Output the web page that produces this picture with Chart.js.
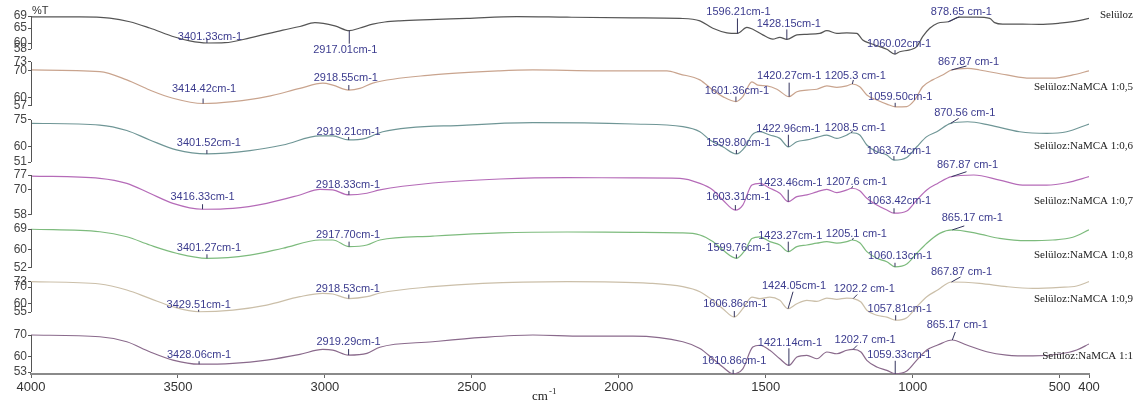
<!DOCTYPE html>
<html>
<head>
<meta charset="utf-8">
<script src="https://cdn.jsdelivr.net/npm/chart.js@4.4.1/dist/chart.umd.min.js"></script>
<style>
  html, body { margin: 0; padding: 0; background: #fff; }
  #wrap { width: 1141px; height: 408px; }
</style>
</head>
<body>
<div id="wrap"><canvas id="c"></canvas></div>
<script>
// FTIR spectra, transmittance (%T) against wavenumber (cm-1), one panel per sample.
const sampleNames = [
  'Selüloz',
  'Selüloz:NaMCA 1:0,5',
  'Selüloz:NaMCA 1:0,6',
  'Selüloz:NaMCA 1:0,7',
  'Selüloz:NaMCA 1:0,8',
  'Selüloz:NaMCA 1:0,9',
  'Selüloz:NaMCA 1:1'
];

// [wavenumber, %T]
const seluloz = [[4000,68.7],[3834,68.7],[3732,68.3],[3664,67.1],[3596,65.0],[3511,62.0],[3460,60.7],[3401.33,60.0],[3340,60.1],[3255,61.7],[3143,64.3],[3085,65.5],[3034,66.8],[2966,65.7],[2917.01,64.1],[2881,65.0],[2837,66.3],[2796,67.0],[2745,67.4],[2643,67.8],[2517,68.2],[2347,68.8],[2176,68.6],[1952,68.4],[1792,68.2],[1724,67.4],[1680,64.9],[1632,63.4],[1596.21,63.2],[1564,65.2],[1544,64.6],[1510,62.7],[1476,61.3],[1452,61.9],[1428.15,61.2],[1394,62.7],[1360,62.9],[1316,63.2],[1292,64.1],[1258,63.2],[1224,63.4],[1190,63.2],[1170,61.0],[1146,59.9],[1112,58.8],[1088,57.9],[1060.02,56.3],[1044,57.1],[1010,57.7],[986,58.8],[966,62.1],[942,64.9],[915,66.6],[878.65,67.1],[840,68.6],[782,68.6],[738,68.2],[721,66.8],[694,66.3],[626,66.3],[568,66.2],[500,66.6],[455,67.1],[400,68.2]];
const ratio05 = [[4000,70.1],[3766,69.5],[3674,66.5],[3596,62.8],[3517,59.8],[3414.42,57.9],[3313,58.6],[3198,60.4],[3085,63.4],[3007,65.3],[2973,64.6],[2918.55,62.8],[2881,63.4],[2837,65.3],[2633,68.3],[2405,69.8],[2292,70.1],[2064,69.8],[1836,69.8],[1792,68.6],[1724,66.5],[1680,62.8],[1646,60.4],[1601.36,58.6],[1578,60.4],[1547,65.8],[1527,64.6],[1496,64.3],[1462,63.1],[1420.27,60.4],[1394,62.2],[1360,62.8],[1326,63.1],[1292,64.3],[1258,63.8],[1224,64.3],[1205.3,65.0],[1180,64.0],[1156,61.0],[1122,59.2],[1088,57.7],[1059.50,56.7],[1020,56.8],[993,59.2],[966,64.0],[932,66.5],[898,68.3],[867.87,70.1],[813,70.7],[772,70.1],[680,68.3],[601,67.1],[523,67.1],[455,68.3],[400,69.8]];
const ratio06 = [[4000,73.1],[3766,72.1],[3674,69.0],[3596,63.6],[3505,57.9],[3401.52,55.6],[3255,57.5],[3143,60.7],[3017,65.9],[2973,65.9],[2919.21,63.6],[2862,64.5],[2803,68.3],[2517,72.1],[2292,73.5],[1952,72.7],[1782,71.2],[1724,68.3],[1690,63.6],[1646,59.7],[1599.80,55.6],[1570,59.7],[1547,66.4],[1520,68.3],[1486,66.4],[1452,64.5],[1422.96,59.7],[1394,62.6],[1360,63.6],[1326,65.1],[1292,66.4],[1258,64.5],[1224,66.4],[1208.5,67.7],[1180,66.4],[1156,60.7],[1122,56.9],[1088,55.0],[1063.74,52.1],[1020,53.6],[986,59.7],[952,65.5],[918,68.3],[870.56,73.1],[813,74.0],[738,72.1],[636,68.3],[544,67.4],[476,68.3],[400,72.7]];
const ratio07 = [[4000,76.5],[3766,75.4],[3674,73.0],[3596,68.3],[3517,63.5],[3416.33,60.7],[3313,61.1],[3198,63.5],[3085,67.5],[3017,70.2],[2973,69.9],[2918.33,67.5],[2857,68.3],[2813,69.9],[2633,73.2],[2405,75.1],[2176,75.8],[1952,75.6],[1792,75.4],[1724,73.0],[1680,69.9],[1646,65.1],[1603.31,60.3],[1578,62.7],[1547,72.2],[1520,73.0],[1486,70.7],[1452,68.3],[1423.46,64.3],[1394,66.7],[1360,67.5],[1326,69.0],[1292,70.2],[1258,68.6],[1224,69.9],[1207.6,70.7],[1180,69.5],[1156,65.9],[1122,62.7],[1088,60.3],[1063.42,58.8],[1020,59.9],[986,65.1],[952,69.9],[915,73.0],[867.87,76.2],[792,77.0],[704,74.6],[626,72.2],[544,72.2],[476,73.3],[400,76.2]];
const ratio08 = [[4000,68.9],[3766,67.8],[3674,65.6],[3596,62.0],[3505,58.4],[3401.27,56.2],[3255,57.6],[3143,60.6],[3017,64.2],[2973,64.2],[2917.70,61.3],[2857,62.0],[2813,64.2],[2633,65.9],[2405,67.3],[2176,67.7],[1952,67.5],[1792,67.3],[1724,66.4],[1680,63.5],[1646,59.8],[1599.76,56.2],[1570,59.8],[1547,64.9],[1520,65.6],[1486,63.5],[1452,62.0],[1423.27,59.1],[1394,61.3],[1360,62.0],[1326,62.8],[1292,63.5],[1258,62.8],[1224,63.5],[1205.1,64.2],[1180,63.0],[1156,59.1],[1122,56.2],[1088,54.7],[1060.13,52.5],[1020,53.7],[986,58.4],[952,62.8],[908,67.1],[865.17,68.6],[782,67.1],[704,64.9],[612,63.9],[523,64.2],[455,65.4],[400,68.6]];
const ratio09 = [[4000,73.2],[3766,71.8],[3674,68.2],[3596,63.2],[3517,58.2],[3429.51,55.2],[3313,56.2],[3198,59.2],[3085,64.2],[3007,66.2],[2973,65.8],[2918.53,63.1],[2857,64.2],[2813,66.4],[2633,70.2],[2463,72.2],[2176,73.2],[1893,72.2],[1782,70.2],[1724,67.2],[1680,62.0],[1646,57.0],[1606.86,52.0],[1578,57.0],[1547,64.0],[1520,63.0],[1486,64.0],[1452,62.0],[1424.05,57.0],[1394,60.0],[1360,62.0],[1326,61.4],[1292,63.4],[1258,62.6],[1224,63.4],[1202.2,63.1],[1176,61.0],[1156,56.1],[1122,53.1],[1088,52.0],[1057.81,50.1],[1020,51.6],[986,58.2],[952,64.2],[915,68.2],[867.87,73.0],[772,72.2],[680,70.2],[591,69.2],[499,69.8],[442,70.6],[400,73.2]];
const ratio10 = [[4000,70.0],[3766,69.2],[3674,66.9],[3596,62.3],[3517,58.5],[3428.06,56.6],[3313,57.0],[3198,58.5],[3085,61.1],[3007,63.4],[2973,63.1],[2919.29,60.8],[2857,61.6],[2813,64.4],[2633,66.9],[2463,68.9],[2292,70.0],[2122,69.5],[1952,69.5],[1782,66.9],[1724,63.8],[1680,59.1],[1646,55.3],[1610.86,52.2],[1578,54.5],[1544,64.5],[1520,65.3],[1486,63.0],[1452,59.1],[1421.14,56.1],[1394,59.9],[1360,60.7],[1326,59.1],[1292,62.2],[1258,61.4],[1224,63.0],[1202.7,63.4],[1176,62.2],[1156,58.4],[1122,55.3],[1088,53.8],[1059.33,52.2],[1020,53.5],[986,58.5],[952,63.1],[915,65.4],[865.17,67.7],[816,65.4],[748,62.3],[680,60.8],[591,60.4],[499,61.3],[442,63.1],[400,65.9]];

const spectra = [seluloz, ratio05, ratio06, ratio07, ratio08, ratio09, ratio10];

// Band labels; the number in each label is also where its marker sits.
const peakLabels = [
  ['3401.33cm-1', '2917.01cm-1', '1596.21cm-1', '1428.15cm-1', '1060.02cm-1', '878.65 cm-1'],
  ['3414.42cm-1', '2918.55cm-1', '1601.36cm-1', '1420.27cm-1', '1205.3 cm-1', '1059.50cm-1', '867.87 cm-1'],
  ['3401.52cm-1', '2919.21cm-1', '1599.80cm-1', '1422.96cm-1', '1208.5 cm-1', '1063.74cm-1', '870.56 cm-1'],
  ['3416.33cm-1', '2918.33cm-1', '1603.31cm-1', '1423.46cm-1', '1207.6 cm-1', '1063.42cm-1', '867.87 cm-1'],
  ['3401.27cm-1', '2917.70cm-1', '1599.76cm-1', '1423.27cm-1', '1205.1 cm-1', '1060.13cm-1', '865.17 cm-1'],
  ['3429.51cm-1', '2918.53cm-1', '1606.86cm-1', '1424.05cm-1', '1202.2 cm-1', '1057.81cm-1', '867.87 cm-1'],
  ['3428.06cm-1', '2919.29cm-1', '1610.86cm-1', '1421.14cm-1', '1202.7 cm-1', '1059.33cm-1', '865.17 cm-1']
];

// Tick labels of each panel's %T axis and of the wavenumber axis.
const yTickValues = [[69,65,60,58],[73,70,60,57],[75,60,51],[77,70,58],[69,60,52],[73,70,60,55],[70,60,53]];
const xTickValues = [4000,3500,3000,2500,2000,1500,1000,500,400];

// ---- presentation ----
const lineColors = ['#555555', '#c9a48e', '#6f9696', '#b56bb8', '#7dbb7d', '#cbbfa9', '#8a6a8c'];
const axisRanges = [[55.67,69.67],[54.27,75.18],[47.29,78.71],[54.62,80.10],[48.91,72.06],[48.15,77.19],[52.11,75.28]];
const panelWeights = [42, 57.5, 55, 53.5, 53, 48.5, 50.5];
const nameOffsets = [1, 31, 32.5, 32.5, 33, 24, 32.5];
// [label dx, label dy, marker dx, marker dy] in px from the band point
const peakOffsets = [
  [[3,-6,0,-4],[-4,19,0,13],[1,-21,0,-15],[2,-15,0,-10],[4,-10,0,-4],[13,-10,11,-5]],
  [[1,-15,0,-5],[-3,-12,0,-5],[1,-11,0,-5],[0,-20.7,0,-14],[3,-8,1,-4],[5,-10,0,-4],[17,-8,15,-4]],
  [[2,-11,0,-4],[0,-8,0,-3],[2,-11,0,-4],[0,-18,0,-12],[4,-5,1,-2],[5,-9,0,-4],[14,-10,8,-5]],
  [[0,-12.6,0,-5],[-1,-10,0,-4],[3,-13,0,-5],[2,-19,0,-12],[5,-6,1,-2],[5,-12,0,-5],[16,-12,15,-5]],
  [[2,-10,0,-4],[-1,-11.7,0,-5],[3,-10,0,-4],[2,-15.7,0,-10],[4,-6,1,-2],[5,-11,0,-4],[20,-12,12,-4]],
  [[0,-7,0,-2],[-1,-10,0,-4],[1,-13,0,-6],[6,-23,5,-17],[11,-10,4,-4],[4,-11.6,0,-5],[10,-10,9,-5]],
  [[0,-9,0,-3],[0,-13,0,-6],[1,-12.4,0,-4],[1,-22.6,0,-17],[12,-9,4,-4],[4,-18.4,0,-13],[5,-15,3,-8]]
];

function valueAt(data, w) {
  for (let j = 0; j < data.length - 1; j++) {
    const [w0, v0] = data[j], [w1, v1] = data[j + 1];
    if (w <= w0 && w >= w1) return w0 === w1 ? v0 : v0 + (v1 - v0) * (w - w0) / (w1 - w0);
  }
  return data[data.length - 1][1];
}

const datasets = spectra.map((pts, i) => ({
  label: sampleNames[i],
  data: pts.map(([x, y]) => ({ x, y })),
  yAxisID: 'y' + i,
  borderColor: lineColors[i],
  borderWidth: 1.2,
  pointRadius: 0,
  cubicInterpolationMode: 'monotone',
  fill: false
}));

const scales = {
  x: {
    type: 'linear',
    reverse: true,
    min: 400,
    max: 4000,
    afterBuildTicks: s => { s.ticks = xTickValues.map(v => ({ value: v })); },
    afterFit: s => { s.height = 34; },
    ticks: { autoSkip: false, maxRotation: 0, color: '#333', padding: 2,
             callback: v => String(v),
             font: { family: '"Liberation Sans", Arial, sans-serif', size: 13 } },
    grid: { drawOnChartArea: false, drawTicks: true, tickLength: 4, color: '#666' },
    border: { display: true, color: '#8a8a8a', width: 2 }
  }
};
// Stacked left axes are laid out with the last-defined one on top, so the
// panels are registered bottom-up.
for (let i = spectra.length - 1; i >= 0; i--) {
  scales['y' + i] = {
    type: 'linear',
    position: 'left',
    stack: 'panels',
    stackWeight: panelWeights[i],
    offset: false,
    min: axisRanges[i][0],
    max: axisRanges[i][1],
    afterBuildTicks: s => { s.ticks = yTickValues[i].map(v => ({ value: v })); },
    afterFit: s => { s.width = 31; },
    ticks: { autoSkip: false, color: '#444', padding: 1,
             callback: v => String(v),
             font: { family: '"Liberation Sans", Arial, sans-serif', size: 12 } },
    grid: { drawOnChartArea: false, drawTicks: true, tickLength: 3, color: '#555' },
    border: { display: false }
  };
}

const spectraDecor = {
  id: 'spectraDecor',
  afterDraw(chart) {
    const { ctx, chartArea: area } = chart;
    const xs = chart.scales.x;
    ctx.save();
    spectra.forEach((data, i) => {
      const ys = chart.scales['y' + i];
      const t = yTickValues[i];
      // axis bracket spanning the labelled range
      const bx = Math.round(area.left) + 0.5;
      ctx.strokeStyle = '#555';
      ctx.lineWidth = 1;
      ctx.beginPath();
      ctx.moveTo(bx, ys.getPixelForValue(Math.max(...t)));
      ctx.lineTo(bx, ys.getPixelForValue(Math.min(...t)));
      ctx.stroke();

      // band markers and labels
      peakLabels[i].forEach((lab, k) => {
        const w = parseFloat(lab);
        const px = xs.getPixelForValue(w);
        const py = ys.getPixelForValue(valueAt(data, w));
        const [ldx, ldy, mdx, mdy] = peakOffsets[i][k];
        ctx.strokeStyle = '#34345e';
        ctx.lineWidth = 1;
        ctx.beginPath();
        ctx.moveTo(px, py);
        ctx.lineTo(px + mdx, py + mdy);
        ctx.stroke();
        ctx.fillStyle = '#3b3b8e';
        ctx.font = '11px "Liberation Sans", Arial, sans-serif';
        ctx.textAlign = 'center';
        ctx.textBaseline = 'middle';
        ctx.fillText(lab, px + ldx, py + ldy);
      });

      // sample name
      ctx.fillStyle = '#222';
      ctx.font = '11px "Liberation Serif", "Times New Roman", serif';
      ctx.textAlign = 'right';
      ctx.textBaseline = 'middle';
      ctx.fillText(sampleNames[i], chart.width - 8, ys.top + nameOffsets[i]);
    });

    // y unit
    ctx.fillStyle = '#333';
    ctx.font = '11px "Liberation Sans", Arial, sans-serif';
    ctx.textAlign = 'left';
    ctx.textBaseline = 'middle';
    ctx.fillText('%T', area.left + 1, area.top - 3);

    // x unit: cm with superscript -1
    const cx = (area.left + area.right) / 2 - 28;
    const cy = chart.height - 8;
    ctx.fillStyle = '#222';
    ctx.textBaseline = 'alphabetic';
    ctx.font = '13px "Liberation Serif", "Times New Roman", serif';
    ctx.fillText('cm', cx, cy);
    const cw = ctx.measureText('cm').width;
    ctx.font = '9px "Liberation Serif", "Times New Roman", serif';
    ctx.fillText('-1', cx + cw + 1, cy - 6);
    ctx.restore();
  }
};

new Chart(document.getElementById('c'), {
  type: 'line',
  data: { datasets },
  options: {
    responsive: true,
    maintainAspectRatio: false,
    animation: false,
    layout: { padding: { top: 14, right: 52, bottom: 0, left: 0 } },
    plugins: { legend: { display: false }, tooltip: { enabled: false } },
    elements: { line: { tension: 0 } },
    scales
  },
  plugins: [spectraDecor]
});
</script>
</body>
</html>
